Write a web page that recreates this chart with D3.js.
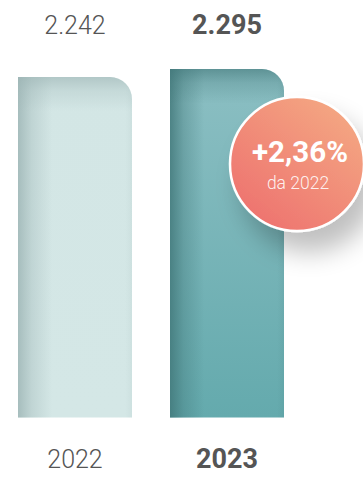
<!DOCTYPE html>
<html>
<head>
<meta charset="utf-8">
<script src="https://cdn.jsdelivr.net/npm/d3@7"></script>
<style>
  html, body { margin: 0; padding: 0; background: #fff; }
  svg { display: block; font-family: Roboto, "Noto Sans", sans-serif; }
</style>
</head>
<body>
<svg id="chart" width="363" height="478"></svg>
<script>
// Annual totals
const years = ["2022", "2023"];
const values = [2242, 2295];
const comparisonLabel = "da 2022";

// Bar fills: [top colour, bottom colour, edge shade]
const barTop = ["#d3e6e5", "#8cbfc3"];
const barBottom = ["#d4e7e6", "#64aaad"];
const barEdge = ["#9bb3b3", "#3f7577"];

const W = 363, H = 478;
const baseY = 417.5;

const it = d3.formatLocale({ decimal: ",", thousands: ".", grouping: [3], currency: ["€", ""] });
const fmtInt = it.format(",d");
const fmtPct = it.format("+.2f");

const svg = d3.select("#chart");
const defs = svg.append("defs");

const x = d3.scaleBand().domain(years).range([18, 284]).paddingInner(0.25).paddingOuter(0);
const y = d3.scaleLinear().domain([0, d3.max(values)]).range([baseY, 69]);

const r = 22;
function barPath(x0, y0, w, h) {
  return `M${x0},${y0 + h}V${y0}H${x0 + w - r}A${r},${r} 0 0 1 ${x0 + w},${y0 + r}V${y0 + h}Z`;
}

years.forEach((yr, i) => {
  const id = "b" + i;
  const vg = defs.append("linearGradient").attr("id", id + "v").attr("x1", 0).attr("y1", 0).attr("x2", 0).attr("y2", 1);
  vg.append("stop").attr("offset", "0%").attr("stop-color", barTop[i]);
  vg.append("stop").attr("offset", "100%").attr("stop-color", barBottom[i]);

  const hg = defs.append("linearGradient").attr("id", id + "h").attr("x1", 0).attr("y1", 0).attr("x2", 1).attr("y2", 0);
  hg.append("stop").attr("offset", "0%").attr("stop-color", barEdge[i]).attr("stop-opacity", 0.8);
  hg.append("stop").attr("offset", "12%").attr("stop-color", barEdge[i]).attr("stop-opacity", 0.35);
  hg.append("stop").attr("offset", "30%").attr("stop-color", barEdge[i]).attr("stop-opacity", 0);
  hg.append("stop").attr("offset", "94%").attr("stop-color", barEdge[i]).attr("stop-opacity", 0);
  hg.append("stop").attr("offset", "100%").attr("stop-color", barEdge[i]).attr("stop-opacity", 0.12);

  const tg = defs.append("linearGradient").attr("id", id + "t").attr("x1", 0).attr("y1", 0).attr("x2", 0).attr("y2", 1);
  tg.append("stop").attr("offset", "0%").attr("stop-color", barEdge[i]).attr("stop-opacity", 0.6);
  tg.append("stop").attr("offset", "4%").attr("stop-color", barEdge[i]).attr("stop-opacity", 0.25);
  tg.append("stop").attr("offset", "10%").attr("stop-color", barEdge[i]).attr("stop-opacity", 0);
  tg.append("stop").attr("offset", "100%").attr("stop-color", barEdge[i]).attr("stop-opacity", 0);
});

const bars = svg.append("g").selectAll("g").data(years).join("g");
bars.each(function (yr, i) {
  const g = d3.select(this);
  const d = barPath(x(yr), y(values[i]), x.bandwidth(), baseY - y(values[i]));
  g.append("path").attr("d", d).attr("fill", `url(#b${i}v)`);
  g.append("path").attr("d", d).attr("fill", `url(#b${i}h)`);
  g.append("path").attr("d", d).attr("fill", `url(#b${i}t)`);
});

// Value labels above the bars
svg.append("g").selectAll("text").data(years).join("text")
  .attr("x", d => x(d) + x.bandwidth() / 2)
  .attr("y", 34)
  .attr("text-anchor", "middle")
  .attr("fill", "#555")
  .attr("font-size", (d, i) => i === 1 ? 27 : 25)
  .attr("font-weight", (d, i) => i === 1 ? 700 : 300)
  .text((d, i) => fmtInt(values[i]));

// Year labels below the bars
svg.append("g").selectAll("text").data(years).join("text")
  .attr("x", d => x(d) + x.bandwidth() / 2)
  .attr("y", 468)
  .attr("text-anchor", "middle")
  .attr("fill", "#555")
  .attr("font-size", (d, i) => i === 1 ? 27 : 25)
  .attr("font-weight", (d, i) => i === 1 ? 700 : 300)
  .text(d => d);

// Change badge
const change = (values[1] - values[0]) / values[0] * 100;
const cx = 297, cy = 164, cr = 67;

const bg = defs.append("linearGradient").attr("id", "badge").attr("x1", 0.85).attr("y1", 0.1).attr("x2", 0.2).attr("y2", 0.9);
bg.append("stop").attr("offset", "0%").attr("stop-color", "#f4a682");
bg.append("stop").attr("offset", "100%").attr("stop-color", "#ee7570");

const sh = defs.append("filter").attr("id", "shadow").attr("x", "-50%").attr("y", "-50%").attr("width", "200%").attr("height", "200%");
sh.append("feGaussianBlur").attr("in", "SourceAlpha").attr("stdDeviation", 13);
sh.append("feOffset").attr("dx", 12).attr("dy", 20).attr("result", "o");
sh.append("feComponentTransfer").append("feFuncA").attr("type", "linear").attr("slope", 0.25);
const mg = sh.append("feMerge");
mg.append("feMergeNode");
mg.append("feMergeNode").attr("in", "SourceGraphic");

const badge = svg.append("g");
badge.append("circle").attr("cx", cx).attr("cy", cy).attr("r", cr)
  .attr("fill", "url(#badge)").attr("stroke", "#fff").attr("stroke-width", 2.5)
  .attr("filter", "url(#shadow)");
badge.append("text").attr("x", cx + 3).attr("y", 162).attr("text-anchor", "middle")
  .attr("fill", "#fff").attr("font-size", 29.5).attr("font-weight", 700)
  .text(fmtPct(change) + "%");
badge.append("text").attr("x", cx + 1).attr("y", 189).attr("text-anchor", "middle")
  .attr("fill", "#fff").attr("fill-opacity", 0.9).attr("font-size", 17.5).attr("font-weight", 300)
  .text(comparisonLabel);
</script>
</body>
</html>
